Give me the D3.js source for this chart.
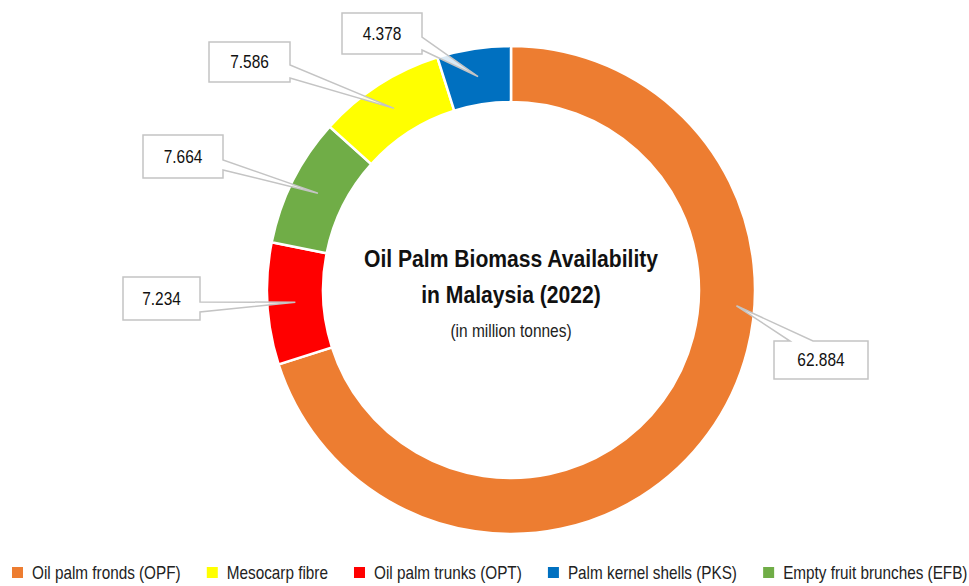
<!DOCTYPE html>
<html>
<head>
<meta charset="utf-8">
<script src="https://cdn.jsdelivr.net/npm/d3@7"></script>
<style>
  html, body { margin: 0; padding: 0; background: #fff; }
  text { font-family: "Liberation Sans Narrow", "Arial Narrow", "Liberation Sans", Arial, sans-serif; }
</style>
</head>
<body>
<script>
const categories = [
  "Oil palm fronds (OPF)",
  "Oil palm trunks (OPT)",
  "Empty fruit brunches (EFB)",
  "Mesocarp fibre",
  "Palm kernel shells (PKS)"
];
const values = [62.884, 7.234, 7.664, 7.586, 4.378];
const valueLabels = ["62.884", "7.234", "7.664", "7.586", "4.378"];
const legendOrder = [0, 3, 1, 4, 2];
const colors = ["#ED7D31", "#FF0000", "#70AD47", "#FFFF00", "#0070C0"];

const width = 969;
const height = 586;
const cx = 511;
const cy = 290;
const outerR = 244;
const innerR = 188;

// callout boxes (same order as categories)
const callouts = [
  { x: 774, y: 341, w: 94, h: 38, side: "top", b0: 16, b1: 39, angle: 94, r: 226 },
  { x: 123, y: 277, w: 77, h: 43, side: "right", b0: 25, b1: 35 },
  { x: 143, y: 135, w: 80, h: 43, side: "right", b0: 25, b1: 35 },
  { x: 209, y: 42, w: 81, h: 40, side: "right", b0: 23, b1: 36 },
  { x: 342, y: 13, w: 80, h: 41, side: "right", b0: 24, b1: 37 }
];

// fake a narrow face: squeeze the text horizontally around its anchor
function narrow(sel, k) {
  const x = +sel.attr("x"), y = +sel.attr("y");
  const len = sel.node().getComputedTextLength() * k;
  sel.attr("x", 0).attr("y", 0)
    .attr("transform", `translate(${x},${y}) scale(${k},1)`);
  return len;
}

const svg = d3.select("body").append("svg")
  .attr("width", width)
  .attr("height", height);

const pie = d3.pie().sort(null).value(d => d)
  .startAngle(0).endAngle(2 * Math.PI);
const arcs = pie(values);

const arc = d3.arc().innerRadius(innerR).outerRadius(outerR);

const g = svg.append("g").attr("transform", `translate(${cx},${cy})`);

g.selectAll("path.slice")
  .data(arcs)
  .enter()
  .append("path")
  .attr("class", "slice")
  .attr("d", arc)
  .attr("fill", (d, i) => colors[i])
  .attr("stroke", "#fff")
  .attr("stroke-width", 2.5);

// label callouts
function tipPoint(d, i) {
  const c = callouts[i];
  if (c.angle !== undefined) {
    const a = c.angle * Math.PI / 180;
    return [cx + c.r * Math.sin(a), cy - c.r * Math.cos(a)];
  }
  const p = arc.centroid(d);
  return [cx + p[0], cy + p[1]];
}

function calloutPath(c, tip) {
  const x0 = c.x, y0 = c.y, x1 = c.x + c.w, y1 = c.y + c.h;
  const p = d3.path();
  if (c.side === "right") {
    p.moveTo(x0, y0);
    p.lineTo(x1, y0);
    p.lineTo(x1, y0 + c.b0);
    p.lineTo(tip[0], tip[1]);
    p.lineTo(x1, y0 + c.b1);
    p.lineTo(x1, y1);
    p.lineTo(x0, y1);
  } else {
    p.moveTo(x0, y0);
    p.lineTo(x0 + c.b0, y0);
    p.lineTo(tip[0], tip[1]);
    p.lineTo(x0 + c.b1, y0);
    p.lineTo(x1, y0);
    p.lineTo(x1, y1);
    p.lineTo(x0, y1);
  }
  p.closePath();
  return p.toString();
}

const labels = svg.append("g");
arcs.forEach((d, i) => {
  const c = callouts[i];
  labels.append("path")
    .attr("d", calloutPath(c, tipPoint(d, i)))
    .attr("fill", "#fff")
    .attr("fill-opacity", 0.85)
    .attr("stroke", "#c4c4c4")
    .attr("stroke-width", 1.5)
    .attr("stroke-linejoin", "miter");
  const t = labels.append("text")
    .attr("x", c.x + c.w / 2)
    .attr("y", c.y + c.h / 2 + 6)
    .attr("text-anchor", "middle")
    .attr("font-size", "18px")
    .attr("fill", "#111")
    .text(valueLabels[i]);
  narrow(t, 0.86);
});

// centre title
const title = svg.append("g").attr("text-anchor", "middle");
narrow(title.append("text")
  .attr("x", cx).attr("y", 267)
  .attr("font-size", "24px").attr("font-weight", "bold").attr("fill", "#111")
  .text("Oil Palm Biomass Availability"), 0.88);
narrow(title.append("text")
  .attr("x", cx).attr("y", 303)
  .attr("font-size", "24px").attr("font-weight", "bold").attr("fill", "#111")
  .text("in Malaysia (2022)"), 0.88);
narrow(title.append("text")
  .attr("x", cx).attr("y", 337)
  .attr("font-size", "18px").attr("fill", "#222")
  .text("(in million tonnes)"), 0.86);

// legend
const legend = svg.append("g");
let lx = 12;
legendOrder.forEach(i => {
  legend.append("rect")
    .attr("x", lx).attr("y", 567)
    .attr("width", 11).attr("height", 11)
    .attr("fill", colors[i]);
  const t = legend.append("text")
    .attr("x", lx + 20).attr("y", 579)
    .attr("font-size", "18px").attr("fill", "#222")
    .text(categories[i]);
  lx += 20 + narrow(t, 0.85) + 26;
});
</script>
</body>
</html>
